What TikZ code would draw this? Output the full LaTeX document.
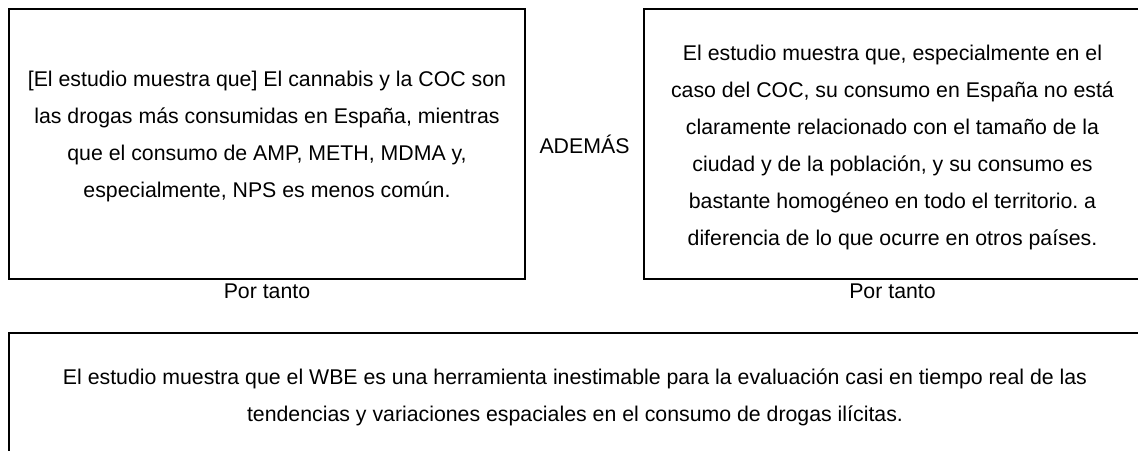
\documentclass[tikz,border=0pt]{standalone}
\usepackage{fontspec}
\setmainfont{Liberation Sans}
\frenchspacing
\begin{document}
\begin{tikzpicture}[x=1pt,y=-1pt,
  box/.style={draw=black, line width=2pt, inner sep=0pt},
  txt/.style={align=center, font=\fontsize{21.3}{37}\selectfont, inner sep=0pt},
  lbl/.style={font=\fontsize{21.3}{24}\selectfont, inner sep=0pt}]
\useasboundingbox (0,0) rectangle (1138,450);
\clip (0,0) rectangle (1138,450);
\node[box, minimum width=516pt, minimum height=270pt] (b1) at (267,144) {};
\node[box, minimum width=497pt, minimum height=270pt] (b2) at (892.5,144) {};
\node[box, minimum width=1132pt, minimum height=129pt] (b3) at (575,397.5) {};
\node[txt] (t1) at (267,136) {[El estudio muestra que] El cannabis y la COC son\\las drogas más consumidas en España, mientras\\que el consumo de AMP, METH, MDMA y,\\especialmente, NPS es menos común.};
\node[txt] (t2) at (892.5,147.5) {El estudio muestra que, especialmente en el\\caso del COC, su consumo en España no está\\claramente relacionado con el tamaño de la\\ciudad y de la población, y su consumo es\\bastante homogéneo en todo el territorio. a\\diferencia de lo que ocurre en otros países.};
\node[txt] (t3) at (575,397.5) {El estudio muestra que el WBE es una herramienta inestimable para la evaluación casi en tiempo real de las\\tendencias y variaciones espaciales en el consumo de drogas ilícitas.};
\node[lbl] (ad) at (584.5,144) {ADEMÁS};
\node[lbl] (p1) at (267,291) {Por tanto};
\node[lbl] (p2) at (892.5,291) {Por tanto};
\end{tikzpicture}
\end{document}
